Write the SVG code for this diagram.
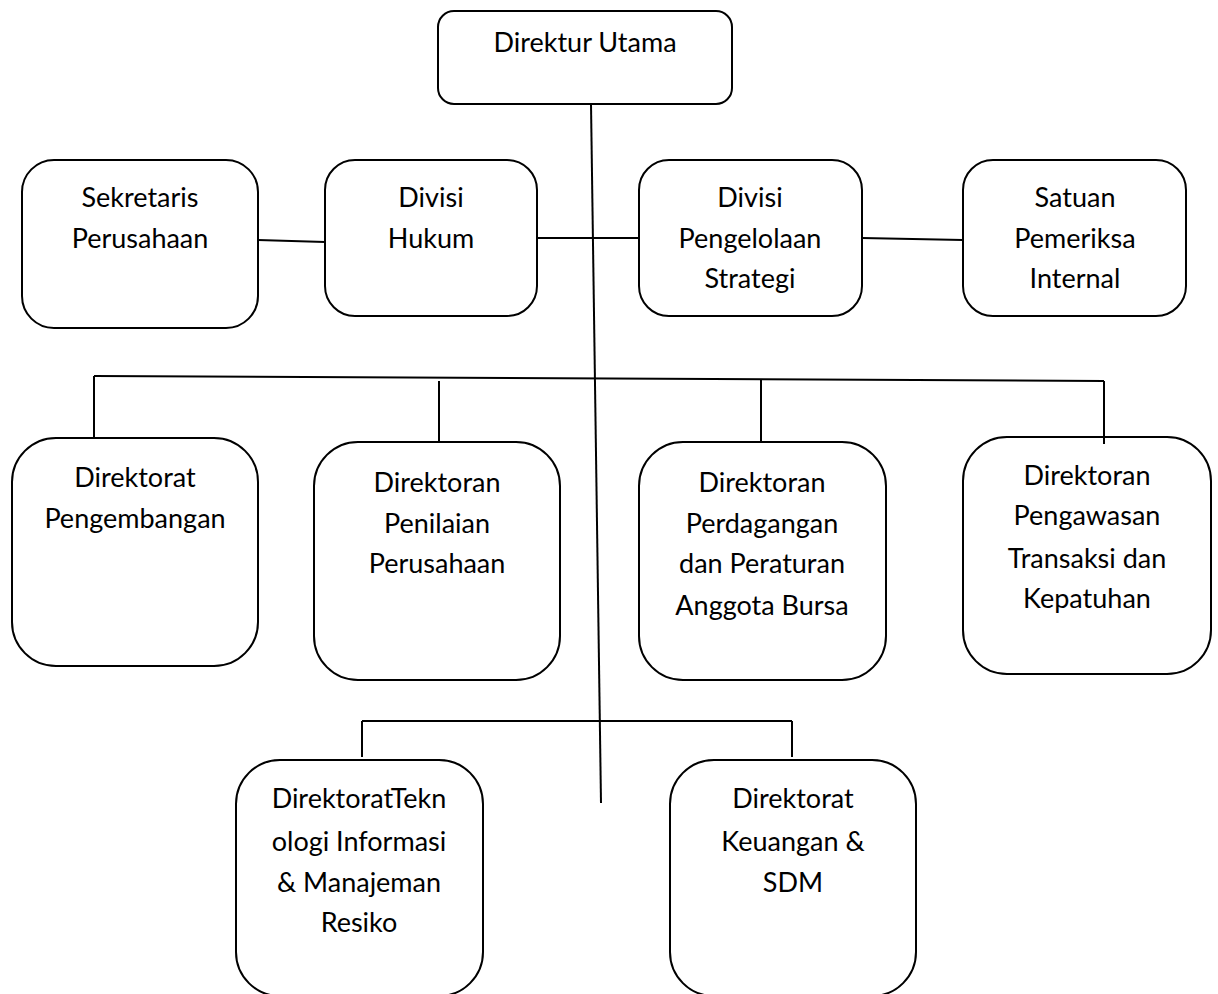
<svg xmlns="http://www.w3.org/2000/svg" width="1218" height="994" viewBox="0 0 1218 994">
<style>
.box{fill:#fff;stroke:#000;stroke-width:2}
.ln{stroke:#000;stroke-width:2;fill:none}
text{font-family:Lato,"Open Sans","Liberation Sans",sans-serif;font-size:27px;fill:#000;text-anchor:middle}
</style>
<rect width="1218" height="994" fill="#fff"/>
<g id="direktur-utama">
<rect class="box" x="438" y="11" width="294" height="93" rx="16"/>
<text x="585" y="52">Direktur Utama</text>
</g>
<g id="sekretaris">
<rect class="box" x="22" y="160" width="236" height="168" rx="32"/>
<text x="140" y="207">Sekretaris</text>
<text x="140" y="248">Perusahaan</text>
</g>
<g id="divisi-hukum">
<rect class="box" x="325" y="160" width="212" height="156" rx="30"/>
<text x="431" y="207">Divisi</text>
<text x="431" y="248">Hukum</text>
</g>
<g id="divisi-strategi">
<rect class="box" x="639" y="160" width="223" height="156" rx="30"/>
<text x="750" y="207">Divisi</text>
<text x="750" y="248">Pengelolaan</text>
<text x="750" y="288">Strategi</text>
</g>
<g id="satuan-pemeriksa">
<rect class="box" x="963" y="160" width="223" height="156" rx="30"/>
<text x="1075" y="207">Satuan</text>
<text x="1075" y="248">Pemeriksa</text>
<text x="1075" y="288">Internal</text>
</g>
<g id="dir-pengembangan">
<rect class="box" x="12" y="438" width="246" height="228" rx="44"/>
<text x="135" y="487">Direktorat</text>
<text x="135" y="528">Pengembangan</text>
</g>
<g id="dir-penilaian">
<rect class="box" x="314" y="442" width="246" height="238" rx="44"/>
<text x="437" y="492">Direktoran</text>
<text x="437" y="533">Penilaian</text>
<text x="437" y="573">Perusahaan</text>
</g>
<g id="dir-perdagangan">
<rect class="box" x="639" y="442" width="247" height="238" rx="44"/>
<text x="762" y="492">Direktoran</text>
<text x="762" y="533">Perdagangan</text>
<text x="762" y="573">dan Peraturan</text>
<text x="762" y="615">Anggota Bursa</text>
</g>
<g id="dir-pengawasan">
<rect class="box" x="963" y="437" width="248" height="237" rx="44"/>
<text x="1087" y="485">Direktoran</text>
<text x="1087" y="525">Pengawasan</text>
<text x="1087" y="568">Transaksi dan</text>
<text x="1087" y="608">Kepatuhan</text>
</g>
<g id="dir-teknologi">
<rect class="box" x="236" y="760" width="247" height="236" rx="44"/>
<text x="359" y="808">DirektoratTekn</text>
<text x="359" y="851">ologi Informasi</text>
<text x="359" y="892">&amp; Manajeman</text>
<text x="359" y="932">Resiko</text>
</g>
<g id="dir-keuangan">
<rect class="box" x="670" y="760" width="246" height="236" rx="44"/>
<text x="793" y="808">Direktorat</text>
<text x="793" y="851">Keuangan &amp;</text>
<text x="793" y="892">SDM</text>
</g>
<g id="connectors">
<line class="ln" x1="591" y1="104" x2="601" y2="803"/>
<line class="ln" x1="258" y1="240" x2="325" y2="242"/>
<line class="ln" x1="537" y1="238" x2="639" y2="238"/>
<line class="ln" x1="862" y1="238" x2="963" y2="240"/>
<line class="ln" x1="94" y1="376" x2="1104" y2="381"/>
<line class="ln" x1="94" y1="376" x2="94" y2="438"/>
<line class="ln" x1="439" y1="381" x2="439" y2="442"/>
<line class="ln" x1="761" y1="380" x2="761" y2="442"/>
<line class="ln" x1="1104" y1="381" x2="1104" y2="444"/>
<line class="ln" x1="362" y1="721" x2="792" y2="721"/>
<line class="ln" x1="362" y1="721" x2="362" y2="757"/>
<line class="ln" x1="792" y1="721" x2="792" y2="757"/>
</g>
</svg>
